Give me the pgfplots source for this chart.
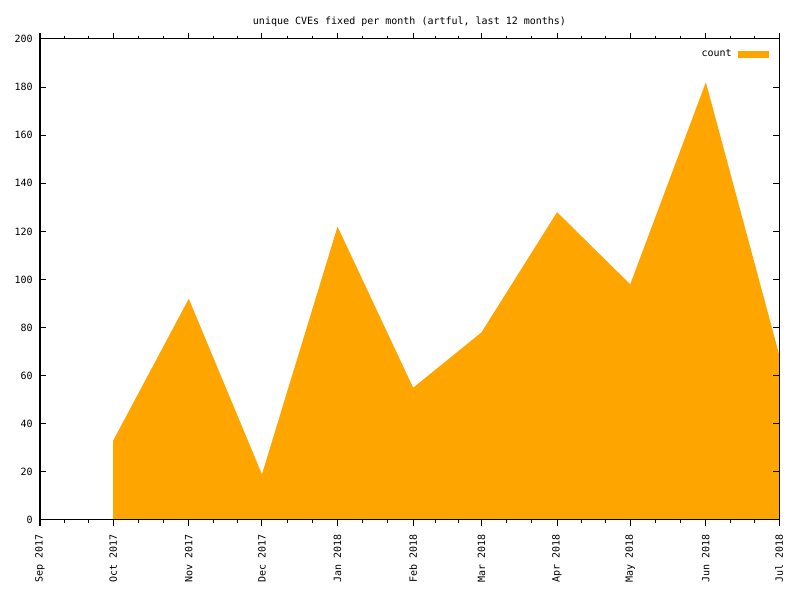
\documentclass[border=0pt]{standalone}
\usepackage{pgfplots}
\pgfplotsset{compat=1.18}
\usepackage{fontspec}
\setmainfont{DejaVu Sans Mono}
\definecolor{gporange}{HTML}{FFA500}
\begin{document}
\begin{tikzpicture}[x=1pt,y=1pt]
\useasboundingbox (0,0) rectangle (600,450);
\begin{axis}[
  at={(30pt,60pt)}, anchor=origin,
  scale only axis, width=554.25pt, height=360.75pt,
  xmin=0, xmax=303, ymin=0, ymax=200,
  xtick={0,30,61,91,122,153,181,212,242,273,303},
  xticklabels={Sep 2017,Oct 2017,Nov 2017,Dec 2017,Jan 2018,Feb 2018,Mar 2018,Apr 2018,May 2018,Jun 2018,Jul 2018},
  minor xtick={10,20,40.33,50.67,71,81,101.33,111.67,132.33,142.67,162.33,171.67,191.33,201.67,222,232,252.33,262.67,283,293},
  ytick={0,20,...,200},
  /pgf/number format/assume math mode=true,
  tick label style={font=\fontsize{7.5}{9}\selectfont, black},
  x tick label style={yshift=-3pt, rotate=90, anchor=east},
  y tick label style={xshift=-2pt},
  xtick align=outside, ytick align=inside,
  major tick length=4.5pt, minor tick length=2.25pt,
  axis line style={line width=0.75pt, black},
  every tick/.style={line width=0.75pt, black},
  axis on top=true,
  title={unique CVEs fixed per month (artful, last 12 months)},
  title style={at={(0.5,1)}, anchor=base, yshift=5pt, font=\fontsize{7.5}{9}\selectfont},
  legend style={draw=none, fill=none, at={(1,1)}, anchor=north east, xshift=-4pt, yshift=-4pt, font=\fontsize{7.5}{9}\selectfont},
  legend plot pos=right,
  legend image code/.code={\path (0pt,0pt) -- (3pt,0pt); \fill[gporange] (3pt,-2.6pt) rectangle (26.25pt,2.6pt);},
]
\addplot[fill=gporange, draw=none] coordinates {
(30,33) (61,92) (91,19) (122,122) (153,55) (181,78) (212,128) (242,98) (273,182) (303,69)
} \closedcycle;
\addlegendentry{count}
\end{axis}
\end{tikzpicture}
\end{document}
